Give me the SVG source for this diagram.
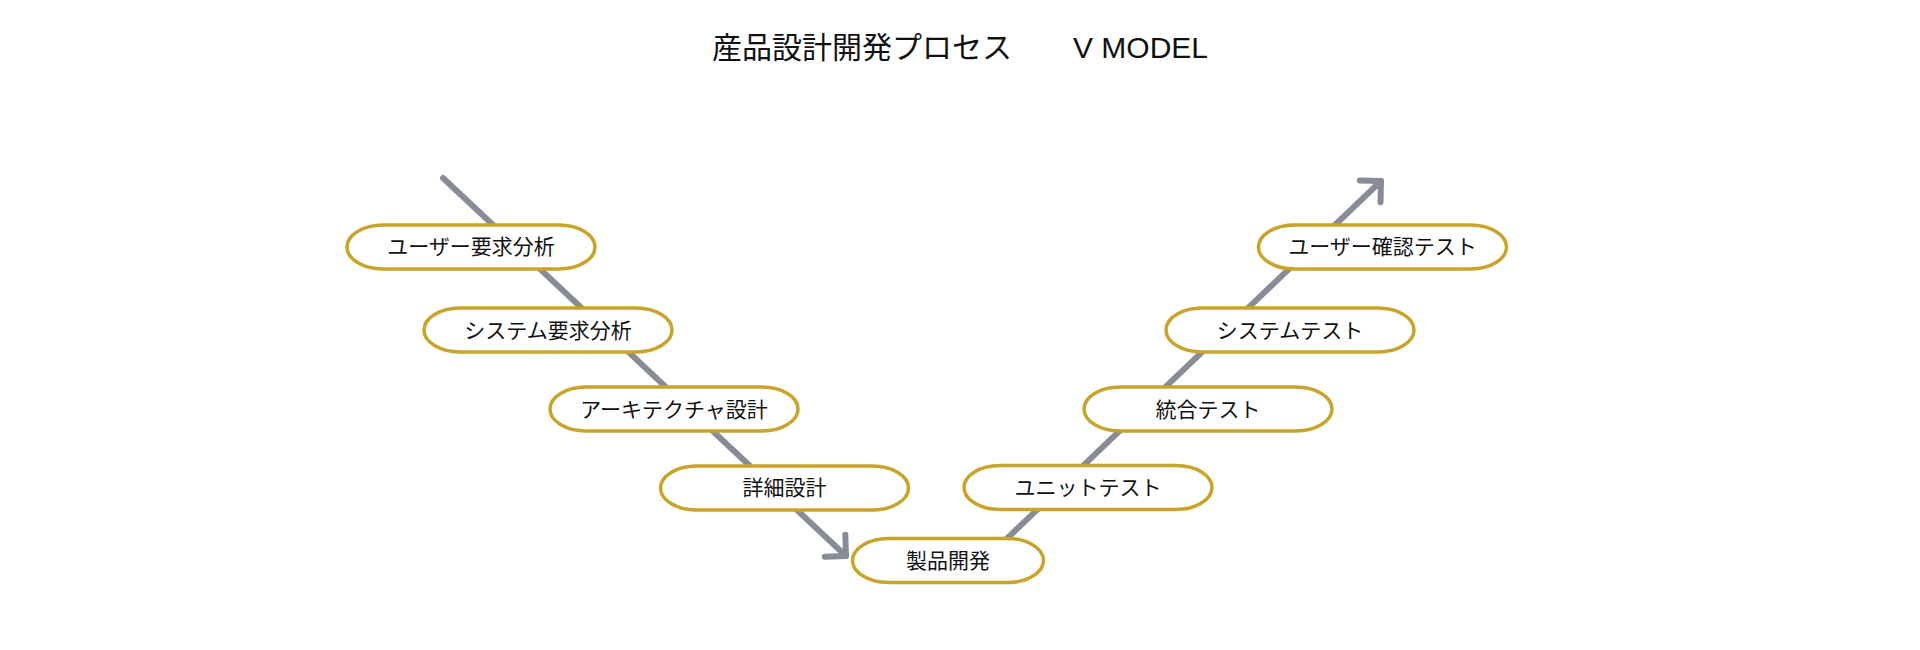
<svg xmlns="http://www.w3.org/2000/svg" width="1920" height="650" viewBox="0 0 1920 650">
<style>
.pill{fill:#ffffff;stroke:#c8a42a;stroke-width:3.5}
.lbl{font-family:"Liberation Sans","Noto Sans CJK JP",sans-serif;font-size:21px;fill:#111111;text-anchor:middle}
.title{font-family:"Liberation Sans","Noto Sans CJK JP",sans-serif;font-size:30px;fill:#111111}
.conn{fill:none;stroke:#878c96;stroke-width:6;stroke-linecap:round}
</style>
<defs>
<marker id="arrow" markerUnits="userSpaceOnUse" orient="auto" markerWidth="40" markerHeight="40" refX="0" refY="0" overflow="visible">
<path d="M-15,-15 L0,0 L-15,15" fill="none" stroke="#878c96" stroke-width="6" stroke-linecap="round" stroke-linejoin="round"/>
</marker>
</defs>
<rect x="0" y="0" width="1920" height="650" fill="#ffffff"/>
<text class="title" x="712" y="58">産品設計開発プロセス<tspan x="1073">V MODEL</tspan></text>
<g id="connectors">
<line class="conn" x1="443" y1="178" x2="846" y2="556" marker-end="url(#arrow)"/>
<line class="conn" x1="995" y1="550" x2="1381" y2="181" marker-end="url(#arrow)"/>
</g>
<g id="n1"><rect class="pill" x="347" y="225" width="248" height="44" rx="36" ry="22"/><text class="lbl" x="471" y="254">ユーザー要求分析</text></g>
<g id="n2"><rect class="pill" x="424" y="308" width="248" height="44" rx="36" ry="22"/><text class="lbl" x="548" y="337.5">システム要求分析</text></g>
<g id="n3"><rect class="pill" x="550" y="387" width="248" height="44" rx="36" ry="22"/><text class="lbl" x="674" y="416.5">アーキテクチャ設計</text></g>
<g id="n4"><rect class="pill" x="660.5" y="466" width="248" height="44" rx="36" ry="22"/><text class="lbl" x="784.5" y="495">詳細設計</text></g>
<g id="n5"><rect class="pill" x="852.5" y="538.5" width="191" height="44" rx="36" ry="22"/><text class="lbl" x="948" y="568">製品開発</text></g>
<g id="n6"><rect class="pill" x="964" y="465.5" width="248" height="44" rx="36" ry="22"/><text class="lbl" x="1088" y="494.5">ユニットテスト</text></g>
<g id="n7"><rect class="pill" x="1084" y="387" width="248" height="44" rx="36" ry="22"/><text class="lbl" x="1208" y="416.5">統合テスト</text></g>
<g id="n8"><rect class="pill" x="1166" y="308" width="248" height="44" rx="36" ry="22"/><text class="lbl" x="1290" y="337.5">システムテスト</text></g>
<g id="n9"><rect class="pill" x="1258.5" y="225" width="248" height="44" rx="36" ry="22"/><text class="lbl" x="1382.5" y="254">ユーザー確認テスト</text></g>
</svg>
